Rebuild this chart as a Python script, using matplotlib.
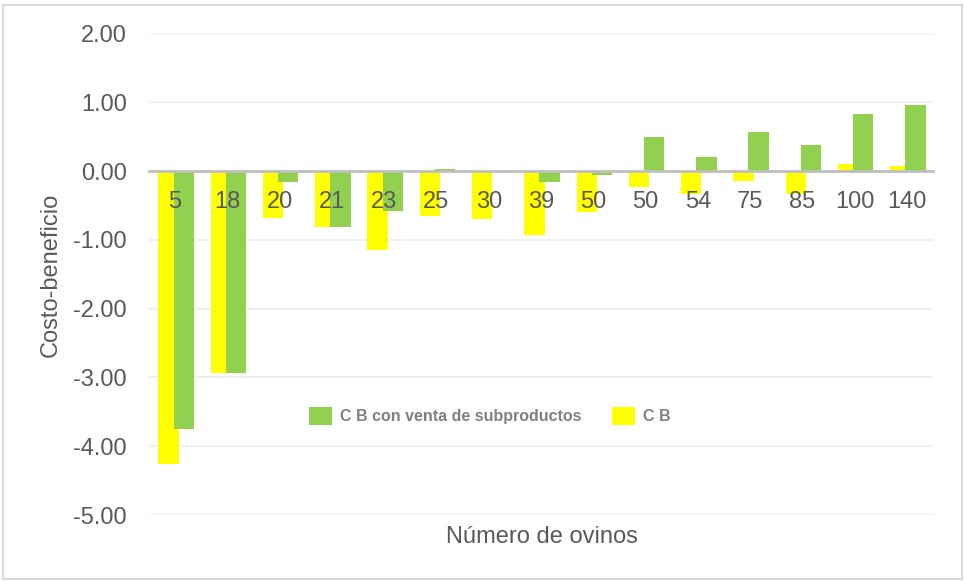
import matplotlib.pyplot as plt
from matplotlib.patches import Rectangle
import numpy as np

plt.rcParams['font.family'] = ['Liberation Sans', 'DejaVu Sans']

ovinos = ['5', '18', '20', '21', '23', '25', '30', '39', '50', '50', '54', '75', '85', '100', '140']
cb_subproductos = [-3.75, -2.94, -0.16, -0.82, -0.58, 0.03, 0.0, -0.16, -0.05, 0.50, 0.20, 0.57, 0.38, 0.83, 0.96]
cb = [-4.26, -2.94, -0.68, -0.82, -1.15, -0.66, -0.69, -0.93, -0.60, -0.23, -0.34, -0.15, -0.34, 0.10, 0.08]

gris = '#595959'
x = np.arange(len(ovinos))

fig = plt.figure(figsize=(9.64, 5.81), dpi=100)
ax = fig.add_axes([149 / 964, 1 - 515 / 581, 784 / 964, 481.5 / 581])

ax.bar(x - 0.125, cb, width=0.39, color='#FFFF00', label='C B', zorder=2)
ax.bar(x + 0.165, cb_subproductos, width=0.39, color='#92D050',
       label='C B con venta de subproductos', zorder=3)

ax.set_xlim(-0.5, len(ovinos) - 0.5)
ax.set_ylim(-5, 2)
ax.set_yticks(np.arange(-5, 3, 1))
ax.set_yticklabels([f'{v:.2f}' for v in np.arange(-5, 3, 1)])
ax.grid(axis='y', color='#ececec', linewidth=1.2)
ax.set_axisbelow(True)
ax.xaxis.set_zorder(10)  # numbers sit over the bars, like the original

ax.set_xticks(x)
ax.set_xticklabels(ovinos)
for s in ['top', 'right', 'left']:
    ax.spines[s].set_visible(False)
ax.spines['bottom'].set_position(('data', 0))
ax.spines['bottom'].set_color('#bfbfbf')
ax.spines['bottom'].set_linewidth(2)
ax.spines['bottom'].set_zorder(5)
ax.tick_params(axis='x', length=0, pad=14, labelsize=17, labelcolor=gris)
ax.tick_params(axis='y', length=0, pad=16, labelsize=17, labelcolor=gris)

fig.text(51 / 964, 1 - 275 / 581, 'Costo-beneficio', rotation=90, ha='center', va='center',
         fontsize=17, color=gris)
fig.text(542 / 964, 1 - 537 / 581, 'Número de ovinos', ha='center', va='center',
         fontsize=17, color=gris)

handles, labels = ax.get_legend_handles_labels()
leg = ax.legend(handles[::-1], labels[::-1], ncol=2, frameon=False, loc='center left',
                bbox_to_anchor=(309 / 964, 1 - 416 / 581), bbox_transform=fig.transFigure,
                prop={'weight': 'bold', 'size': 11.5}, labelcolor='#808080',
                handlelength=1.45, handleheight=1.45, handletextpad=0.5,
                columnspacing=1.9, borderpad=0, borderaxespad=0)

fig.patches.append(Rectangle((3 / 964, 2 / 581), 959 / 964, 574 / 581,
                             transform=fig.transFigure, fill=False,
                             edgecolor='#d9d9d9', linewidth=1.5))

fig.savefig('out.png', dpi=100)
